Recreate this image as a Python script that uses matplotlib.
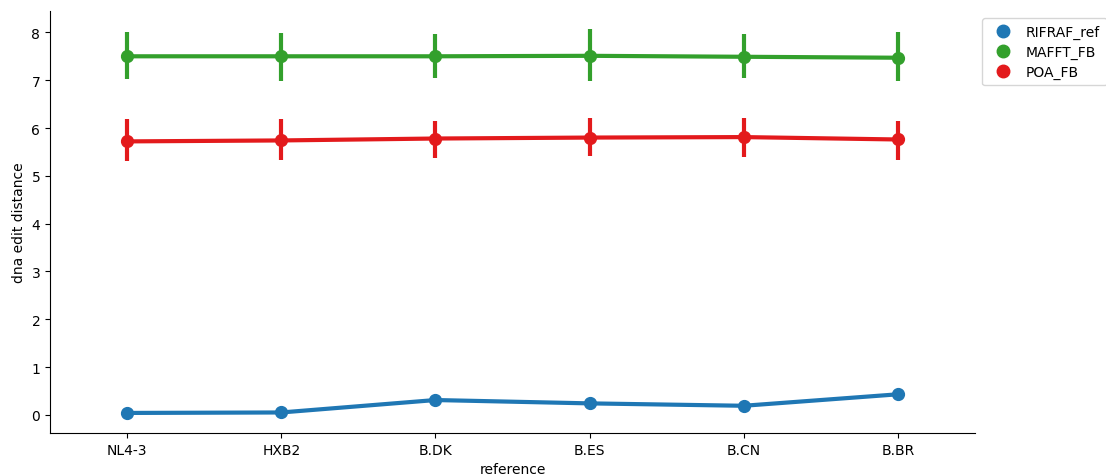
import matplotlib
matplotlib.use("Agg")
import matplotlib.pyplot as plt
from matplotlib.lines import Line2D

references = ["NL4-3", "HXB2", "B.DK", "B.ES", "B.CN", "B.BR"]
series_names = ["RIFRAF_ref", "MAFFT_FB", "POA_FB"]
colors = ["#1f77b4", "#33a02c", "#e31a1c"]

rifraf_mean = [0.04, 0.05, 0.31, 0.24, 0.19, 0.43]
rifraf_lo = [0.03, 0.04, 0.29, 0.22, 0.17, 0.41]
rifraf_hi = [0.05, 0.06, 0.33, 0.26, 0.21, 0.45]

mafft_mean = [7.50, 7.50, 7.50, 7.51, 7.49, 7.47]
mafft_lo = [7.02, 6.99, 7.04, 6.99, 7.04, 6.99]
mafft_hi = [8.00, 7.98, 7.97, 8.07, 7.97, 8.00]

poa_mean = [5.72, 5.74, 5.78, 5.80, 5.81, 5.76]
poa_lo = [5.31, 5.33, 5.37, 5.41, 5.40, 5.33]
poa_hi = [6.19, 6.19, 6.15, 6.20, 6.20, 6.15]

means = [rifraf_mean, mafft_mean, poa_mean]
los = [rifraf_lo, mafft_lo, poa_lo]
his = [rifraf_hi, mafft_hi, poa_hi]

fig = plt.figure(figsize=(11.06, 4.77), dpi=100)
ax = fig.add_axes([0.0452, 0.0901, 0.8364, 0.885])

x = list(range(len(references)))
for m, lo, hi, c in zip(means, los, his, colors):
    ax.vlines(x, lo, hi, color=c, lw=3.0, zorder=2)
    ax.plot(x, m, color=c, lw=3.0, marker="o", markersize=8.5, zorder=3)

ax.set_xlim(-0.5, 5.5)
ax.set_ylim(-0.38, 8.45)
ax.set_xticks(x)
ax.set_xticklabels(references)
ax.set_yticks(range(0, 9))
ax.set_xlabel("reference", fontsize=10)
ax.set_ylabel("dna edit distance", fontsize=10)
ax.tick_params(labelsize=10)
ax.spines["top"].set_visible(False)
ax.spines["right"].set_visible(False)

handles = [Line2D([], [], linestyle="none", marker="o", markersize=9, color=c)
           for c in colors]
ax.legend(handles, series_names, loc="upper left", bbox_to_anchor=(1.0076, 0.983),
          fontsize=10, frameon=True, borderaxespad=0.0, labelspacing=0.4,
          borderpad=0.5, handletextpad=0.65)

fig.savefig("out.png", dpi=100)
